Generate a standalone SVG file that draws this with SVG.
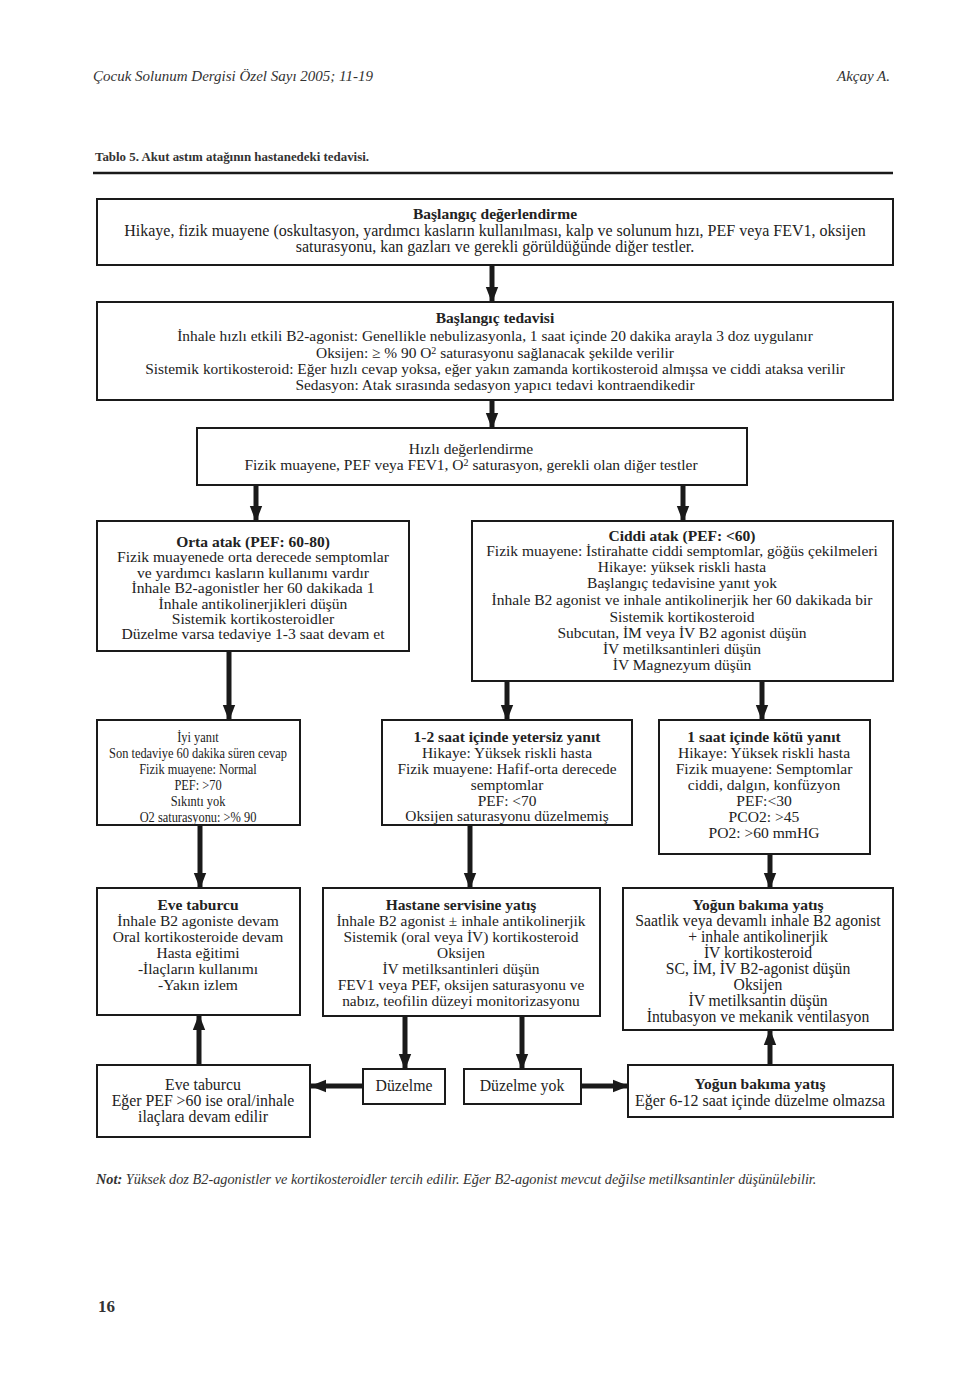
<svg xmlns="http://www.w3.org/2000/svg" width="960" height="1373" viewBox="0 0 960 1373">
<defs>
<marker id="ah" markerUnits="userSpaceOnUse" markerWidth="16" markerHeight="20" refX="17" refY="7" orient="auto" viewBox="0 0 18 14">
<path d="M0,0 L18,7 L0,14 Z" fill="#1a1a1a"/>
</marker>
</defs>
<style>
.bx{fill:#fff;stroke:#1a1a1a;stroke-width:2}
.t{font-family:"Liberation Serif","Times New Roman",serif;fill:#222;text-anchor:middle}
.b{font-weight:bold}
.ar{stroke:#1a1a1a;stroke-width:5;fill:none;marker-end:url(#ah)}
.hd{font-family:"Liberation Serif","Times New Roman",serif;fill:#333}
</style>
<rect width="960" height="1373" fill="#fff"/>
<g id="header" font-size="15">
<text class="hd" x="93" y="81" font-style="italic">Çocuk Solunum Dergisi Özel Sayı 2005; 11-19</text>
<text class="hd" x="890" y="81" font-style="italic" text-anchor="end">Akçay A.</text>
<text class="hd" x="95" y="161" font-weight="bold" font-size="13.5" textLength="274" lengthAdjust="spacingAndGlyphs">Tablo 5. Akut astım atağının hastanedeki tedavisi.</text>
<line x1="93" y1="173" x2="893" y2="173" stroke="#1a1a1a" stroke-width="2.5"/>
</g>
<g id="connectors">
<line class="ar" x1="492" y1="265" x2="492" y2="302"/>
<line class="ar" x1="492" y1="400" x2="492" y2="428"/>
<line class="ar" x1="256" y1="485" x2="256" y2="521"/>
<line class="ar" x1="683" y1="485" x2="683" y2="521"/>
<line class="ar" x1="229" y1="651" x2="229" y2="720"/>
<line class="ar" x1="507" y1="681" x2="507" y2="720"/>
<line class="ar" x1="762" y1="681" x2="762" y2="720"/>
<line class="ar" x1="200" y1="825" x2="200" y2="888"/>
<line class="ar" x1="470" y1="825" x2="470" y2="888"/>
<line class="ar" x1="770" y1="854" x2="770" y2="888"/>
<line class="ar" x1="405" y1="1016" x2="405" y2="1069"/>
<line class="ar" x1="522" y1="1016" x2="522" y2="1069"/>
<line class="ar" x1="363" y1="1086" x2="311" y2="1086"/>
<line class="ar" x1="581" y1="1086" x2="628" y2="1086"/>
<line class="ar" x1="199" y1="1065" x2="199" y2="1015"/>
<line class="ar" x1="770" y1="1065" x2="770" y2="1030"/>
</g>
<g id="n1" font-size="16">
<rect class="bx" x="97" y="199" width="796" height="66"/>
<text class="t b" x="495" y="219" font-size="15.5">Başlangıç değerlendirme</text>
<text class="t" x="495" y="236">Hikaye, fizik muayene (oskultasyon, yardımcı kasların kullanılması, kalp ve solunum hızı, PEF veya FEV1, oksijen</text>
<text class="t" x="495" y="252">saturasyonu, kan gazları ve gerekli görüldüğünde diğer testler.</text>
</g>
<g id="n2" font-size="15.4">
<rect class="bx" x="97" y="302" width="796" height="98"/>
<text class="t b" x="495" y="323" font-size="15.5">Başlangıç tedavisi</text>
<text class="t" x="495" y="341">İnhale hızlı etkili B2-agonist: Genellikle nebulizasyonla, 1 saat içinde 20 dakika arayla 3 doz uygulanır</text>
<text class="t" x="495" y="358">Oksijen: ≥ % 90 O<tspan font-size="10" dy="-4">2</tspan><tspan dy="4"> saturasyonu sağlanacak şekilde verilir</tspan></text>
<text class="t" x="495" y="374">Sistemik kortikosteroid: Eğer hızlı cevap yoksa, eğer yakın zamanda kortikosteroid almışsa ve ciddi ataksa verilir</text>
<text class="t" x="495" y="390">Sedasyon: Atak sırasında sedasyon yapıcı tedavi kontraendikedir</text>
</g>
<g id="n3" font-size="15.5">
<rect class="bx" x="197" y="428" width="550" height="57"/>
<text class="t" x="471" y="454">Hızlı değerlendirme</text>
<text class="t" x="471" y="470">Fizik muayene, PEF veya FEV1, O<tspan font-size="10" dy="-4">2</tspan><tspan dy="4"> saturasyon, gerekli olan diğer testler</tspan></text>
</g>
<g id="n4" font-size="15.6">
<rect class="bx" x="97" y="521" width="312" height="130"/>
<text class="t b" x="253" y="547" font-size="15.5">Orta atak (PEF: 60-80)</text>
<text class="t" x="253" y="562">Fizik muayenede orta derecede semptomlar</text>
<text class="t" x="253" y="578">ve yardımcı kasların kullanımı vardır</text>
<text class="t" x="253" y="593">İnhale B2-agonistler her 60 dakikada 1</text>
<text class="t" x="253" y="609">İnhale antikolinerjikleri düşün</text>
<text class="t" x="253" y="624">Sistemik kortikosteroidler</text>
<text class="t" x="253" y="639">Düzelme varsa tedaviye 1-3 saat devam et</text>
</g>
<g id="n5" font-size="15.5">
<rect class="bx" x="472" y="521" width="421" height="160"/>
<text class="t b" x="682" y="541">Ciddi atak (PEF: &lt;60)</text>
<text class="t" x="682" y="556">Fizik muayene: İstirahatte ciddi semptomlar, göğüs çekilmeleri</text>
<text class="t" x="682" y="572">Hikaye: yüksek riskli hasta</text>
<text class="t" x="682" y="588">Başlangıç tedavisine yanıt yok</text>
<text class="t" x="682" y="605">İnhale B2 agonist ve inhale antikolinerjik her 60 dakikada bir</text>
<text class="t" x="682" y="622">Sistemik kortikosteroid</text>
<text class="t" x="682" y="638">Subcutan, İM veya İV B2 agonist düşün</text>
<text class="t" x="682" y="654">İV metilksantinleri düşün</text>
<text class="t" x="682" y="670">İV Magnezyum düşün</text>
</g>
<g id="n6" font-size="15.5">
<rect class="bx" x="97" y="720" width="203" height="105"/>
<g transform="translate(198,0) scale(0.8,1)">
<text class="t" x="0" y="742">İyi yanıt</text>
<text class="t" x="0" y="758">Son tedaviye 60 dakika süren cevap</text>
<text class="t" x="0" y="774">Fizik muayene: Normal</text>
<text class="t" x="0" y="790">PEF: &gt;70</text>
<text class="t" x="0" y="806">Sıkıntı yok</text>
<text class="t" x="0" y="822">O2 saturasyonu: &gt;% 90</text>
</g>
</g>
<g id="n7" font-size="15.4">
<rect class="bx" x="382" y="720" width="250" height="105"/>
<text class="t b" x="507" y="742" font-size="15.5">1-2 saat içinde yetersiz yanıt</text>
<text class="t" x="507" y="758">Hikaye: Yüksek riskli hasta</text>
<text class="t" x="507" y="774">Fizik muayene: Hafif-orta derecede</text>
<text class="t" x="507" y="790">semptomlar</text>
<text class="t" x="507" y="806">PEF: &lt;70</text>
<text class="t" x="507" y="821">Oksijen saturasyonu düzelmemiş</text>
</g>
<g id="n8" font-size="15.6">
<rect class="bx" x="659" y="720" width="211" height="134"/>
<text class="t b" x="764" y="742" font-size="15.5">1 saat içinde kötü yanıt</text>
<text class="t" x="764" y="758">Hikaye: Yüksek riskli hasta</text>
<text class="t" x="764" y="774">Fizik muayene: Semptomlar</text>
<text class="t" x="764" y="790">ciddi, dalgın, konfüzyon</text>
<text class="t" x="764" y="806">PEF:&lt;30</text>
<text class="t" x="764" y="822">PCO2: &gt;45</text>
<text class="t" x="764" y="838">PO2: &gt;60 mmHG</text>
</g>
<g id="n9" font-size="15.5">
<rect class="bx" x="97" y="888" width="203" height="127"/>
<text class="t b" x="198" y="910">Eve taburcu</text>
<text class="t" x="198" y="926">İnhale B2 agoniste devam</text>
<text class="t" x="198" y="942">Oral kortikosteroide devam</text>
<text class="t" x="198" y="958">Hasta eğitimi</text>
<text class="t" x="198" y="974">-İlaçların kullanımı</text>
<text class="t" x="198" y="990">-Yakın izlem</text>
</g>
<g id="n10" font-size="15.4">
<rect class="bx" x="323" y="888" width="277" height="128"/>
<text class="t b" x="461" y="910" font-size="15.5">Hastane servisine yatış</text>
<text class="t" x="461" y="926">İnhale B2 agonist ± inhale antikolinerjik</text>
<text class="t" x="461" y="942">Sistemik (oral veya İV) kortikosteroid</text>
<text class="t" x="461" y="958">Oksijen</text>
<text class="t" x="461" y="974">İV metilksantinleri düşün</text>
<text class="t" x="461" y="990">FEV1 veya PEF, oksijen saturasyonu ve</text>
<text class="t" x="461" y="1006">nabız, teofilin düzeyi monitorizasyonu</text>
</g>
<g id="n11" font-size="15.7">
<rect class="bx" x="623" y="888" width="270" height="142"/>
<text class="t b" x="758" y="910" font-size="15.5">Yoğun bakıma yatış</text>
<text class="t" x="758" y="926">Saatlik veya devamlı inhale B2 agonist</text>
<text class="t" x="758" y="942">+ inhale antikolinerjik</text>
<text class="t" x="758" y="958">İV kortikosteroid</text>
<text class="t" x="758" y="974">SC, İM, İV B2-agonist  düşün</text>
<text class="t" x="758" y="990">Oksijen</text>
<text class="t" x="758" y="1006">İV metilksantin düşün</text>
<text class="t" x="758" y="1022">İntubasyon ve mekanik ventilasyon</text>
</g>
<g id="n12" font-size="15.8">
<rect class="bx" x="97" y="1065" width="213" height="72"/>
<text class="t" x="203" y="1090">Eve taburcu</text>
<text class="t" x="203" y="1106">Eğer PEF &gt;60 ise oral/inhale</text>
<text class="t" x="203" y="1122">ilaçlara devam edilir</text>
</g>
<g id="n13" font-size="15.8">
<rect class="bx" x="363" y="1069" width="82" height="35"/>
<text class="t" x="404" y="1091">Düzelme</text>
</g>
<g id="n14" font-size="15.8">
<rect class="bx" x="464" y="1069" width="117" height="35"/>
<text class="t" x="522" y="1091">Düzelme yok</text>
</g>
<g id="n15" font-size="16">
<rect class="bx" x="628" y="1065" width="265" height="52"/>
<text class="t b" x="760" y="1089" font-size="15.5">Yoğun bakıma yatış</text>
<text class="t" x="760" y="1106">Eğer 6-12 saat içinde düzelme olmazsa</text>
</g>
<g id="footer" font-size="14.3">
<text class="hd" x="96" y="1184" font-style="italic"><tspan font-weight="bold">Not:</tspan> Yüksek doz B2-agonistler ve kortikosteroidler tercih edilir. Eğer B2-agonist mevcut değilse metilksantinler düşünülebilir.</text>
<text class="hd" x="98" y="1312" font-weight="bold" font-size="17">16</text>
</g>
</svg>
